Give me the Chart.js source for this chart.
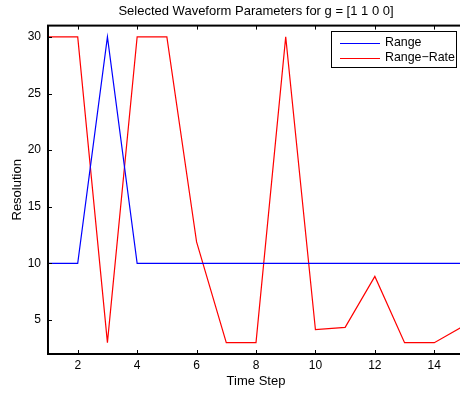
<!DOCTYPE html>
<html>
<head>
<meta charset="utf-8">
<script src="https://cdn.jsdelivr.net/npm/chart.js@4"></script>
<style>
  html, body { margin: 0; padding: 0; background: #fff; overflow: hidden; }
</style>
</head>
<body>
<canvas id="waveChart" width="466" height="393"></canvas>
<script>
// time steps and the two parameter series
const timeSteps = [1, 2, 3, 4, 5, 6, 7, 8, 9, 10, 11, 12, 13, 14, 15];
const rangeRes = [10, 10, 30, 10, 10, 10, 10, 10, 10, 10, 10, 10, 10, 10, 10];
const rangeRateRes = [30, 30, 3, 30, 30, 11.9, 3, 3, 30, 4.15, 4.35, 8.85, 3, 3, 4.5];
const xTicks = [2, 4, 6, 8, 10, 12, 14];
const yTicks = [5, 10, 15, 20, 25, 30];

const fontFam = '"Liberation Sans", Arial, Helvetica, sans-serif';

// matlab style box with inner ticks + legend
const matlabBox = {
  id: 'matlabBox',
  afterDraw(chart) {
    const c = chart.ctx;
    const a = chart.chartArea;
    const xs = chart.scales.x, ys = chart.scales.y;
    c.save();
    c.strokeStyle = '#000';
    c.lineWidth = 1;
    xTicks.forEach(v => {
      const px = Math.round(xs.getPixelForValue(v)) + 0.5;
      c.beginPath();
      c.moveTo(px, a.bottom); c.lineTo(px, a.bottom - 4);
      c.moveTo(px, a.top); c.lineTo(px, a.top + 4);
      c.stroke();
    });
    yTicks.forEach(v => {
      const py = Math.round(ys.getPixelForValue(v)) + 0.5;
      c.beginPath();
      c.moveTo(a.left, py); c.lineTo(a.left + 4, py);
      c.moveTo(a.right, py); c.lineTo(a.right - 4, py);
      c.stroke();
    });
    c.lineWidth = 2;
    c.strokeRect(a.left, a.top, a.right - a.left, a.bottom - a.top);

    // legend
    const bx = 331, by = 31, bw = 125, bh = 36;
    c.fillStyle = '#fff';
    c.fillRect(bx, by, bw, bh);
    c.lineWidth = 1;
    c.strokeRect(bx + 0.5, by + 0.5, bw, bh);
    c.font = '12.4px ' + fontFam;
    c.textBaseline = 'middle';
    chart.data.datasets.forEach((ds, i) => {
      const ly = by + 12 + i * 15;
      c.strokeStyle = ds.borderColor;
      c.lineWidth = 1.2;
      c.beginPath();
      c.moveTo(bx + 9, ly + 0.5); c.lineTo(bx + 49, ly + 0.5);
      c.stroke();
      c.fillStyle = '#000';
      c.fillText(ds.label, bx + 54, ly);
    });
    c.restore();
  }
};

const ctx = document.getElementById('waveChart').getContext('2d');
const waveChart = new Chart(ctx, {
  type: 'line',
  data: {
    datasets: [
      {
        label: 'Range',
        data: timeSteps.map((t, i) => ({ x: t, y: rangeRes[i] })),
        borderColor: '#0000ff',
        borderWidth: 1.2,
        pointRadius: 0,
        tension: 0,
        fill: false
      },
      {
        label: 'Range\u2212Rate',
        data: timeSteps.map((t, i) => ({ x: t, y: rangeRateRes[i] })),
        borderColor: '#ff0000',
        borderWidth: 1.2,
        pointRadius: 0,
        tension: 0,
        fill: false
      }
    ]
  },
  options: {
    responsive: false,
    animation: false,
    layout: { padding: { top: 0, right: 2, bottom: 0, left: 0 } },
    scales: {
      x: {
        type: 'linear',
        min: 1,
        max: 15,
        afterFit: s => { s.height = 39; },
        afterBuildTicks: s => { s.ticks = xTicks.map(v => ({ value: v })); },
        grid: { display: false, drawTicks: false },
        border: { display: false },
        ticks: { color: '#000', font: { size: 12, family: fontFam }, padding: 4, maxRotation: 0 },
        title: { display: true, text: 'Time Step', color: '#000', font: { size: 13, family: fontFam }, padding: { top: 0, bottom: 4 } }
      },
      y: {
        min: 2,
        max: 31,
        afterFit: s => { s.width = 48; },
        afterBuildTicks: s => { s.ticks = yTicks.map(v => ({ value: v })); },
        grid: { display: false, drawTicks: false },
        border: { display: false },
        ticks: { color: '#000', font: { size: 12, family: fontFam }, padding: 7 },
        title: { display: true, text: 'Resolution', color: '#000', font: { size: 13, family: fontFam }, padding: { top: 10, bottom: 0 } }
      }
    },
    plugins: {
      legend: { display: false },
      tooltip: { enabled: false },
      title: {
        display: true,
        fullSize: false,
        text: 'Selected Waveform Parameters for g = [1 1 0 0]',
        color: '#000',
        font: { size: 13, family: fontFam, weight: 'normal' },
        padding: { top: 4, bottom: 6 }
      }
    }
  },
  plugins: [matlabBox]
});
</script>
</body>
</html>
